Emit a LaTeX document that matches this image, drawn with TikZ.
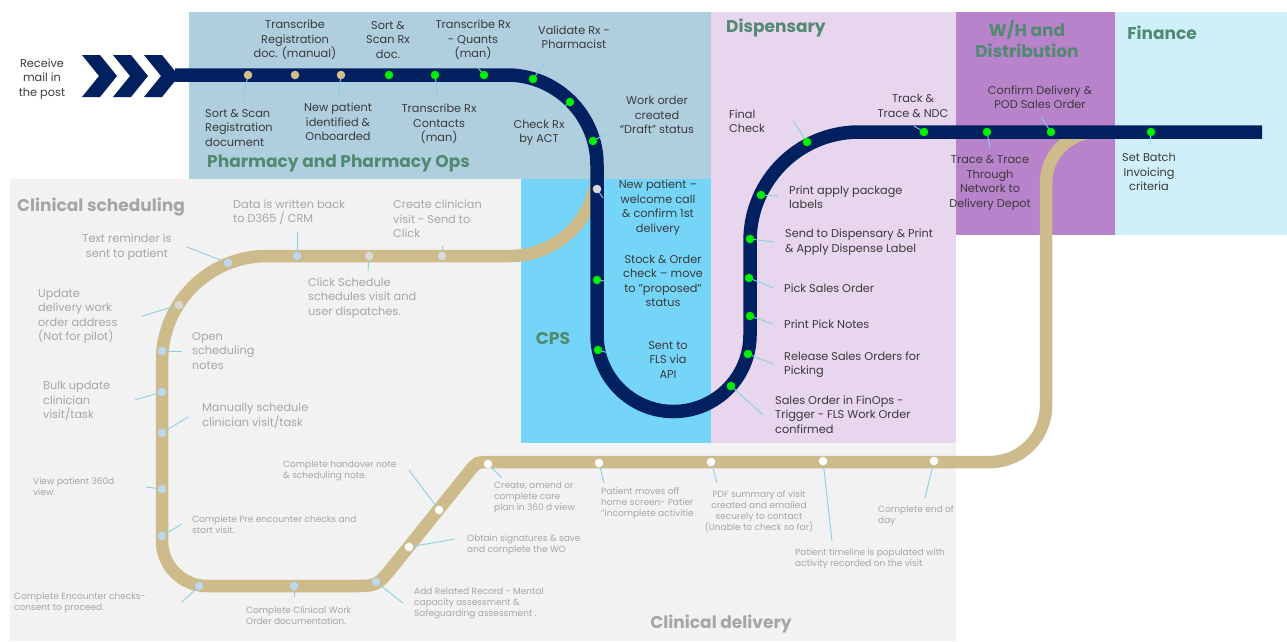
\documentclass[tikz,border=0pt]{standalone}
\usepackage{fontspec}
\setmainfont{Poppins}
\definecolor{navy}{HTML}{002060}
\definecolor{beige}{HTML}{CDBB8B}
\definecolor{tandot}{HTML}{D2BE8E}
\definecolor{gdotc}{HTML}{00EE00}
\definecolor{lbluedot}{HTML}{BDD7EE}
\definecolor{greydot}{HTML}{D9D9D9}
\definecolor{leaderc}{HTML}{8DCFE3}
\definecolor{pharmbg}{HTML}{AFCFDF}
\definecolor{cpsbg}{HTML}{75D5F8}
\definecolor{dispbg}{HTML}{E8D5EE}
\definecolor{whbg}{HTML}{B983CC}
\definecolor{finbg}{HTML}{CFF0FA}
\definecolor{clinbg}{HTML}{F2F2F2}
\definecolor{headgreen}{HTML}{518A71}
\definecolor{darktxt}{HTML}{3A3A3A}
\definecolor{greytxt}{HTML}{A6A6A6}
\newcommand{\mystation}[4]{%
  \coordinate (#1) at (#3);
  \coordinate (#1e) at (#4);
  \draw[leader] (#1) -- (#1e);
  \node[#2] (#1d) at (#1) {};}
\newcommand{\mystop}[3]{%
  \coordinate (#1) at (#3);
  \node[#2] (#1d) at (#1) {};}
\tikzset{
  leader/.style={draw=leaderc, line width=0.9pt},
  dotbase/.style={circle, inner sep=0pt, minimum size=8.6pt},
  gdot/.style={dotbase, fill=gdotc},
  tdot/.style={dotbase, fill=tandot},
  bdot/.style={dotbase, fill=lbluedot},
  ydot/.style={dotbase, fill=greydot},
  wdot/.style={dotbase, fill=white},
  navytrack/.style={draw=navy, line width=13.5pt},
  beigetrack/.style={draw=beige, line width=12.5pt},
  lbl/.style={font=\fontsize{11.3}{14.5}\selectfont, text=darktxt, align=center, inner sep=0pt},
  lbll/.style={lbl, align=left, anchor=west},
  clbl/.style={lbl, text=greytxt},
  clbll/.style={lbll, text=greytxt},
  slbl/.style={font=\fontsize{9}{11}\selectfont, text=greytxt, align=left, anchor=west, inner sep=0pt},
  head/.style={font=\fontsize{17}{21}\selectfont\bfseries, text=headgreen, inner sep=0pt},
  ghead/.style={head, text=greytxt},
}
\begin{document}
\begin{tikzpicture}[x=1pt,y=-1pt]
\useasboundingbox (0,0) rectangle (1287,641);
% backgrounds
\fill[clinbg] (10,179) rectangle (956,641);
\fill[pharmbg] (189,12) rectangle (711,179);
\fill[cpsbg] (521,179) rectangle (711,443);
\fill[dispbg] (711,12) rectangle (956,443);
\fill[whbg] (956,12) rectangle (1115,235);
\fill[finbg] (1115,12) rectangle (1287,235);
% beige track
\draw[beigetrack] (597,150) -- (597,169) arc (0:90:87) -- (267,256) arc (270:180:105)
  -- (162,541) arc (180:90:45) -- (352,586) .. controls (377,586) .. (392.8,566.6)
  -- (469.4,471.3) .. controls (477,462) .. (489,462) -- (990,462) arc (90:0:56)
  -- (1046,183) arc (180:270:51) -- (1110,132);
% navy track
\draw[navytrack] (175,75) -- (507,75) arc (-90:0:90) -- (597,335) arc (180:0:76.5)
  -- (750,241) arc (180:270:109) -- (1262,132);
\foreach \x in {82,113,144}{
  \fill[navy] (\x,55) -- (\x+18,55) -- (\x+35,76) -- (\x+18,97) -- (\x,97) -- (\x+17,76) -- cycle;
}
% navy stations
\mystation{a1}{tdot}{248,75}{243,100}
\mystop{a2}{tdot}{295,75}
\mystation{a3}{tdot}{341,75}{338,98}
\mystop{a4}{gdot}{389,75}
\mystation{a5}{gdot}{435,75}{438,97}
\mystation{a6}{gdot}{484,75}{478,68}
\mystation{a7}{gdot}{533,79}{545,63}
\mystation{a8}{gdot}{570,102}{557,112}
\mystation{a9}{gdot}{593,141}{613,130}
\mystation{a10}{ydot}{597,189}{603,198}
\mystation{a11}{gdot}{597,280}{605,281}
\mystation{a12}{gdot}{598,350}{633,360}
\mystation{a13}{gdot}{731,386}{763,415}
\mystation{a14}{gdot}{748,354}{773,364}
\mystation{a15}{gdot}{750,316}{773,324}
\mystation{a16}{gdot}{749,278}{773,288}
\mystation{a17}{gdot}{750,239}{774,242}
\mystation{a18}{gdot}{761,195}{778,196}
\mystation{a19}{gdot}{807,142}{793,121}
\mystation{a20}{gdot}{924,132}{914,126}
\mystation{a21}{gdot}{987,132}{990,148}
\mystation{a22}{gdot}{1051,132}{1041,117}
\mystation{a23}{gdot}{1151,132}{1150,144}
% beige stations
\mystation{b1}{ydot}{442,256}{442,246}
\mystation{b2}{ydot}{369,256}{368,271}
\mystation{b3}{bdot}{297,256}{297,232}
\mystation{b4}{bdot}{228,263}{187,247}
\mystation{b5}{ydot}{179,305}{142,316}
\mystation{b6}{bdot}{162,351}{182,351}
\mystation{b7}{bdot}{162,392}{135,400}
\mystation{b8}{bdot}{162,433}{188,417}
\mystation{b9}{bdot}{162,489}{146,487}
\mystation{b10}{bdot}{162,536}{182,524}
\mystation{b11}{bdot}{199,586}{182,602}
\mystation{b12}{bdot}{294,586}{294,597}
\mystation{b13}{bdot}{376,582}{403,603}
\mystation{b14}{wdot}{409,547}{455,539}
\mystation{b15}{wdot}{439,510}{409,470}
\mystation{b16}{wdot}{488,464}{502,478}
\mystation{b17}{wdot}{599,463}{604,483}
\mystation{b18}{wdot}{711,462}{717,483}
\mystation{b19}{wdot}{823,461}{832,541}
\mystation{b20}{wdot}{934,461}{925,498}
% headings
\node[head, anchor=west] (hph) at (207,163) {Pharmacy and Pharmacy Ops};
\node[head, anchor=west] (hdi) at (726,28) {Dispensary};
\node[head] (hcps) at (553,338) {CPS};
\node[head, align=center] (hwh) at (1027,38.5) {W/H and\\Distribution};
\node[head] (hfi) at (1162,33) {Finance};
\node[ghead, anchor=west] (hcs) at (17,207) {Clinical scheduling};
\node[ghead] (hcd) at (721,624) {Clinical delivery};
% top labels
\node[lbl] (r1) at (42,79) {Receive\\mail in\\the post};
\node[lbl] (t1) at (295,40) {Transcribe\\Registration\\doc. (manual)};
\node[lbl] (t2) at (388,40) {Sort \&\\Scan Rx\\doc.};
\node[lbl] (t3) at (473,40) {Transcribe Rx\\- Quants\\(man)};
\node[lbl] (t4) at (574,37) {Validate Rx -\\Pharmacist};
\node[lbll] (u1) at (205,128) {Sort \& Scan\\Registration\\document};
\node[lbl] (u2) at (338,122) {New patient\\identified \&\\Onboarded};
\node[lbl] (u3) at (439,124) {Transcribe Rx\\Contacts\\(man)};
\node[lbl] (u4) at (539,133) {Check Rx\\by ACT};
\node[lbl] (u5) at (657,115) {Work order\\created\\“Draft” status};
% dispensary
\node[lbll] (d1) at (729,121) {Final\\Check};
\node[lbl] (d2) at (913,106) {Track \&\\Trace \& NDC};
\node[lbll] (d3) at (789,197) {Print apply package\\labels};
\node[lbll] (d4) at (785,242) {Send to Dispensary \& Print\\\& Apply Dispense Label};
\node[lbll] (d5) at (784,288) {Pick Sales Order};
\node[lbll] (d6) at (784,324) {Print Pick Notes};
\node[lbll] (d7) at (784,364.5) {Release Sales Orders for\\Picking};
\node[lbll] (d8) at (775,414.5) {Sales Order in FinOps -\\Trigger - FLS Work Order\\confirmed};
% cps
\node[lbl] (c1) at (658,207.5) {New patient –\\welcome call\\\& confirm 1st\\delivery};
\node[lbl] (c2) at (663,281) {Stock \& Order\\check – move\\to "proposed"\\status};
\node[lbl] (c3) at (668,360) {Sent to\\FLS via\\API};
% w/h, finance
\node[lbl] (w1) at (1040,97) {Confirm Delivery \&\\POD Sales Order};
\node[lbl] (w2) at (990,183) {Trace \& Trace\\Through\\Network to\\Delivery Depot};
\node[lbl] (f1) at (1149,172) {Set Batch\\Invoicing\\criteria};
% clinical scheduling
\node[clbll] (s1) at (233,212) {Data is written back\\to D365 / CRM};
\node[clbll] (s2) at (393,219) {Create clinician\\visit - Send to\\Click};
\node[clbl] (s3) at (127,247) {Text reminder is\\sent to patient};
\node[clbll] (s4) at (38,316.5) {Update\\delivery work\\order address\\(Not for pilot)};
\node[clbll] (s5) at (192,351) {Open\\scheduling\\notes};
\node[clbll] (s6) at (43,401) {Bulk update\\clinician\\visit/task};
\node[clbll] (s7) at (202,416) {Manually schedule\\clinician visit/task};
\node[clbll] (s8) at (308,298) {Click Schedule\\schedules visit and\\user dispatches.};
% clinical delivery
\node[slbl] (v1) at (33,487) {View patient 360d\\view.};
\node[slbl] (v2) at (192,524.5) {Complete Pre encounter checks and\\start visit.};
\node[slbl] (v3) at (14,602.5) {Complete Encounter checks-\\consent to proceed.};
\node[slbl] (v4) at (246,615.5) {Complete Clinical Work\\Order documentation.};
\node[slbl] (v5) at (283,470.5) {Complete handover note\\\& scheduling note.};
\node[slbl] (v6) at (414,603.5) {Add Related Record - Mental\\capacity assessment \&\\Safeguarding assessment .};
\node[slbl] (v7) at (467,544.5) {Obtain signatures \& save\\and complete the WO};
\node[slbl] (v8) at (494,497) {Create, amend or\\complete care\\plan in 360 d view};
\begin{scope}
\clip (595,480) rectangle (692,525);
\node[slbl] (v9) at (601,503) {Patient moves off\\home screen- Patient\\"incomplete activities"};
\end{scope}
\node[slbl, align=center, anchor=center] (v10) at (759,511) {PDF summary of visit\\created and emailed\\securely to contact\\(Unable to check so far)};
\node[slbl] (v11) at (795,559) {Patient timeline is populated with\\activity recorded on the visit};
\node[slbl] (v12) at (878,516) {Complete end of\\day};
\end{tikzpicture}
\end{document}
